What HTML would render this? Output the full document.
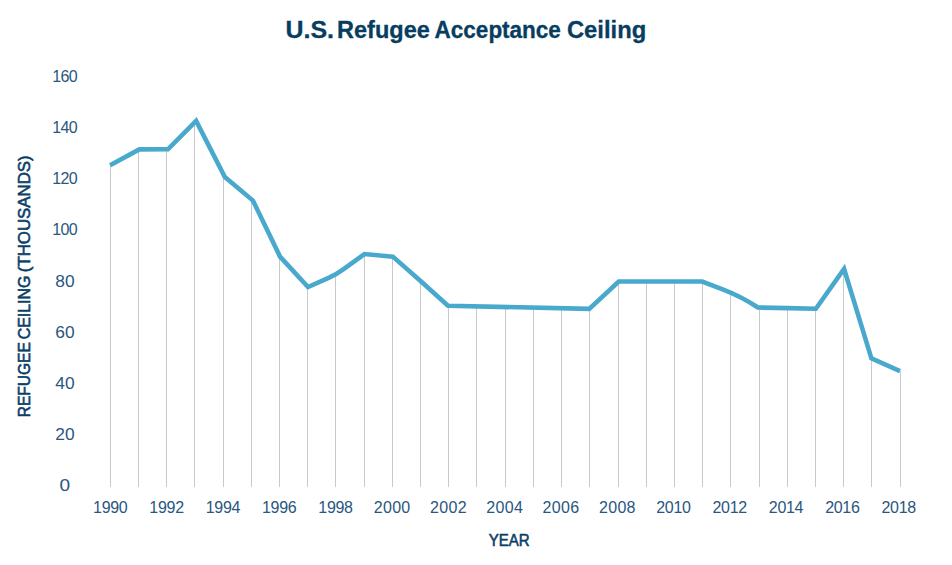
<!DOCTYPE html>
<html><head><meta charset="utf-8"><title>U.S. Refugee Acceptance Ceiling</title>
<style>
html,body{margin:0;padding:0;background:#fff;}
body{width:952px;height:565px;overflow:hidden;font-family:"Liberation Sans",sans-serif;}
svg{display:block}
text{font-family:"Liberation Sans",sans-serif;}
.tick{font-size:16px;fill:#2a5680;}
.ttl{font-size:23px;font-weight:bold;fill:#073d61;stroke:#073d61;stroke-width:0.3px;}
.ax{font-size:17px;fill:#0b3f68;stroke:#0b3f68;stroke-width:0.6px;}
</style></head><body>
<svg width="952" height="565" viewBox="0 0 952 565">
<rect width="952" height="565" fill="#ffffff"/>

<g fill="#c9c9c9" shape-rendering="crispEdges">
<rect x="110" y="165.2" width="1" height="321.8"/>
<rect x="138" y="149.4" width="1" height="337.6"/>
<rect x="166" y="149.3" width="1" height="337.7"/>
<rect x="194" y="121.0" width="1" height="366.0"/>
<rect x="223" y="176.9" width="1" height="310.1"/>
<rect x="251" y="200.6" width="1" height="286.4"/>
<rect x="279" y="256.6" width="1" height="230.4"/>
<rect x="307" y="287.0" width="1" height="200.0"/>
<rect x="335" y="274.5" width="1" height="212.5"/>
<rect x="364" y="254.1" width="1" height="232.9"/>
<rect x="392" y="256.6" width="1" height="230.4"/>
<rect x="420" y="281.3" width="1" height="205.7"/>
<rect x="448" y="305.7" width="1" height="181.3"/>
<rect x="476" y="306.3" width="1" height="180.7"/>
<rect x="505" y="307.0" width="1" height="180.0"/>
<rect x="533" y="307.6" width="1" height="179.4"/>
<rect x="561" y="308.2" width="1" height="178.8"/>
<rect x="589" y="308.9" width="1" height="178.1"/>
<rect x="618" y="281.5" width="1" height="205.5"/>
<rect x="646" y="281.5" width="1" height="205.5"/>
<rect x="674" y="281.5" width="1" height="205.5"/>
<rect x="702" y="281.5" width="1" height="205.5"/>
<rect x="730" y="292.9" width="1" height="194.1"/>
<rect x="759" y="307.5" width="1" height="179.5"/>
<rect x="787" y="308.1" width="1" height="178.9"/>
<rect x="815" y="308.7" width="1" height="178.3"/>
<rect x="843" y="268.9" width="1" height="218.1"/>
<rect x="871" y="358.3" width="1" height="128.7"/>
<rect x="900" y="371.1" width="1" height="115.9"/>
</g>
<path d="M110.10,165.22 L139.31,149.41 L167.93,149.31 L196.14,120.97 L224.86,176.94 L252.97,200.61 L279.99,256.60 L308.00,287.00 L329.16,277.59 Q336.21,274.45 343.27,269.35 L364.43,254.05 L392.84,256.60 L420.86,281.30 L447.97,305.69 L589.24,308.89 L618.76,281.51 L646.57,281.51 L674.79,281.51 L702.20,281.51 L722.00,289.03 Q741.82,296.56 757.93,307.52 L787.64,308.13 L815.86,308.74 L844.07,268.85 L871.39,358.30 L900.00,371.15" fill="none" stroke="#49a9cd" stroke-width="4.6" stroke-linejoin="miter" stroke-linecap="butt"/>
<text class="ttl" x="285.50" y="37.6" textLength="48.50" lengthAdjust="spacingAndGlyphs">U.S.</text>
<text class="ttl" x="337.00" y="37.6" textLength="92.80" lengthAdjust="spacingAndGlyphs">Refugee</text>
<text class="ttl" x="434.60" y="37.6" textLength="126.30" lengthAdjust="spacingAndGlyphs">Acceptance</text>
<text class="ttl" x="566.90" y="37.6" textLength="79.30" lengthAdjust="spacingAndGlyphs">Ceiling</text>
<text class="tick" x="64.85" y="491.1" text-anchor="middle" textLength="10.6" lengthAdjust="spacingAndGlyphs">0</text>
<text class="tick" x="64.95" y="440.0" text-anchor="middle" textLength="19.3" lengthAdjust="spacingAndGlyphs">20</text>
<text class="tick" x="64.95" y="388.8" text-anchor="middle" textLength="19.3" lengthAdjust="spacingAndGlyphs">40</text>
<text class="tick" x="64.95" y="337.7" text-anchor="middle" textLength="19.3" lengthAdjust="spacingAndGlyphs">60</text>
<text class="tick" x="64.95" y="286.5" text-anchor="middle" textLength="19.3" lengthAdjust="spacingAndGlyphs">80</text>
<text class="tick" x="64.7" y="235.4" text-anchor="middle" letter-spacing="-0.6">100</text>
<text class="tick" x="64.7" y="184.3" text-anchor="middle" letter-spacing="-0.6">120</text>
<text class="tick" x="64.7" y="133.1" text-anchor="middle" letter-spacing="-0.6">140</text>
<text class="tick" x="64.7" y="82.0" text-anchor="middle" letter-spacing="-0.6">160</text>
<text class="tick" x="110.40" y="512.8" text-anchor="middle" textLength="34.7">1990</text>
<text class="tick" x="166.71" y="512.8" text-anchor="middle" textLength="34.7">1992</text>
<text class="tick" x="223.03" y="512.8" text-anchor="middle" textLength="34.7">1994</text>
<text class="tick" x="279.34" y="512.8" text-anchor="middle" textLength="34.7">1996</text>
<text class="tick" x="335.66" y="512.8" text-anchor="middle" textLength="34.7">1998</text>
<text class="tick" x="391.97" y="512.8" text-anchor="middle" textLength="36.6">2000</text>
<text class="tick" x="448.28" y="512.8" text-anchor="middle" textLength="36.6">2002</text>
<text class="tick" x="504.60" y="512.8" text-anchor="middle" textLength="36.6">2004</text>
<text class="tick" x="560.91" y="512.8" text-anchor="middle" textLength="36.6">2006</text>
<text class="tick" x="617.23" y="512.8" text-anchor="middle" textLength="36.6">2008</text>
<text class="tick" x="673.54" y="512.8" text-anchor="middle" textLength="34.7">2010</text>
<text class="tick" x="729.85" y="512.8" text-anchor="middle" textLength="34.7">2012</text>
<text class="tick" x="786.17" y="512.8" text-anchor="middle" textLength="34.7">2014</text>
<text class="tick" x="842.48" y="512.8" text-anchor="middle" textLength="34.7">2016</text>
<text class="tick" x="898.80" y="512.8" text-anchor="middle" textLength="34.7">2018</text>
<text class="ax" x="509.2" y="545.6" text-anchor="middle" textLength="41" lengthAdjust="spacingAndGlyphs">YEAR</text>
<g transform="translate(30.2,0) rotate(-90)">
<text class="ax" x="-417.3" y="0" textLength="75.1" lengthAdjust="spacingAndGlyphs">REFUGEE</text>
<text class="ax" x="-339.3" y="0" textLength="63.7" lengthAdjust="spacingAndGlyphs">CEILING</text>
<text class="ax" x="-272.2" y="0" textLength="116.9" lengthAdjust="spacingAndGlyphs">(THOUSANDS)</text>
</g>
</svg></body></html>
